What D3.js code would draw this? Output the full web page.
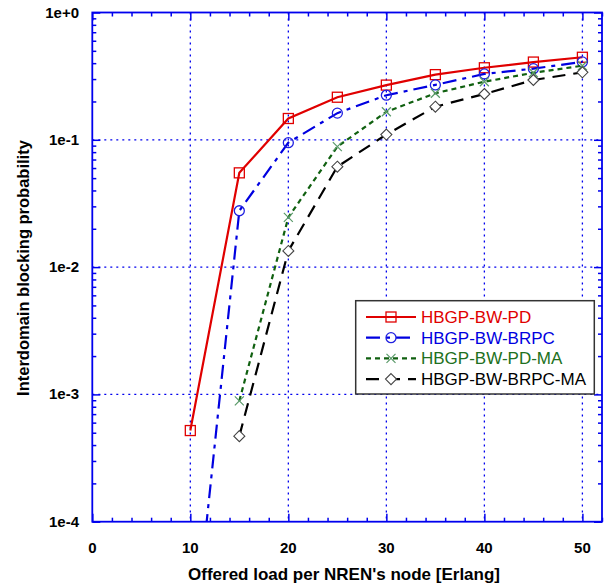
<!DOCTYPE html>
<html>
<head>
<meta charset="utf-8">
<script src="https://cdnjs.cloudflare.com/ajax/libs/d3/7.8.5/d3.min.js"></script>
<style>
  body { margin: 0; background: #fff; }
  svg { font-family: Arial, "Liberation Sans", sans-serif; }
</style>
</head>
<body>
<svg width="609" height="586"></svg>
<script>
// data
const loads = [10, 15, 20, 25, 30, 35, 40, 45, 50];
const pd      = [5.2e-4, 0.055, 0.147, 0.216, 0.269, 0.325, 0.368, 0.408, 0.445];
const brpc    = [6e-6, 0.0277, 0.095, 0.162, 0.224, 0.27, 0.329, 0.362, 0.409];
const pdMa    = [null, 8.9e-4, 0.0246, 0.0883, 0.166, 0.232, 0.286, 0.336, 0.382];
const brpcMa  = [null, 4.7e-4, 0.0134, 0.0615, 0.110, 0.182, 0.229, 0.295, 0.339];
const xTicks = [0, 10, 20, 30, 40, 50];
const yTicks = [1e-4, 1e-3, 1e-2, 1e-1, 1];
const yTickLabels = ['1e-4', '1e-3', '1e-2', '1e-1', '1e+0'];

const series = [
  {name: 'HBGP-BW-PD', vals: pd, color: '#e00000', dash: null, marker: 'square', mcolor: '#e00000', tcolor: '#e00000'},
  {name: 'HBGP-BW-BRPC', vals: brpc, color: '#0000e0', dash: '14,6,4,6', marker: 'circle', mcolor: '#2020e0', tcolor: '#0000e0'},
  {name: 'HBGP-BW-PD-MA', vals: pdMa, color: '#106010', dash: '5,4', marker: 'cross', mcolor: '#5a9a6a', tcolor: '#207020'},
  {name: 'HBGP-BW-BRPC-MA', vals: brpcMa, color: '#000000', dash: '13,8', marker: 'diamond', mcolor: '#444', tcolor: '#000'}
];

const svg = d3.select('svg');
const pLeft = 92.3, pRight = 602, pTop = 12.5, pBottom = 521.7;
const axisBlue = '#0000ee';

const x = d3.scaleLinear().domain([0, 52]).range([pLeft, pRight]);
const y = d3.scaleLog().domain([1e-4, 1]).range([pBottom, pTop]);

svg.append('clipPath').attr('id', 'plot')
  .append('rect').attr('x', pLeft).attr('y', pTop)
  .attr('width', pRight - pLeft).attr('height', pBottom - pTop);

// grid
const grid = svg.append('g').attr('stroke', axisBlue).attr('stroke-width', 1.3)
  .attr('stroke-dasharray', '2,4');
xTicks.filter(d => d > 0).forEach(d => {
  grid.append('line').attr('x1', x(d)).attr('x2', x(d)).attr('y1', pTop).attr('y2', pBottom);
});
yTicks.filter(d => d > 1e-4 && d < 1).forEach(d => {
  grid.append('line').attr('x1', pLeft).attr('x2', pRight).attr('y1', y(d)).attr('y2', y(d));
});

// axes with inward ticks on all four sides
const xMinor = d3.range(0, 53, 2).filter(d => d % 10 !== 0);
const yMinor = [];
for (let e = -4; e < 0; e++) for (let k = 2; k <= 9; k++) yMinor.push(k * Math.pow(10, e));

const axes = [
  [d3.axisBottom(x).tickValues(xTicks).tickSize(-8), `translate(0,${pBottom})`],
  [d3.axisBottom(x).tickValues(xMinor).tickSize(-4), `translate(0,${pBottom})`],
  [d3.axisTop(x).tickValues(xTicks).tickSize(-8), `translate(0,${pTop})`],
  [d3.axisTop(x).tickValues(xMinor).tickSize(-4), `translate(0,${pTop})`],
  [d3.axisLeft(y).tickValues(yTicks).tickSize(-8), `translate(${pLeft},0)`],
  [d3.axisLeft(y).tickValues(yMinor).tickSize(-4), `translate(${pLeft},0)`],
  [d3.axisRight(y).tickValues(yTicks).tickSize(-8), `translate(${pRight},0)`],
  [d3.axisRight(y).tickValues(yMinor).tickSize(-4), `translate(${pRight},0)`]
];
axes.forEach(([ax, tr]) => {
  const g = svg.append('g').attr('transform', tr).call(ax.tickFormat(''));
  g.selectAll('.domain').remove();
  g.selectAll('.tick line').attr('stroke', axisBlue).attr('stroke-width', 1.5);
});
svg.append('rect').attr('x', pLeft).attr('y', pTop)
  .attr('width', pRight - pLeft).attr('height', pBottom - pTop)
  .attr('fill', 'none').attr('stroke', axisBlue).attr('stroke-width', 1.8);

// tick labels
svg.append('g').selectAll('text').data(xTicks).enter().append('text')
  .attr('x', d => x(d)).attr('y', 553)
  .attr('text-anchor', 'middle').attr('font-size', 15).attr('font-weight', 'bold')
  .text(d => d);
svg.append('g').selectAll('text').data(yTicks).enter().append('text')
  .attr('x', 79).attr('y', d => y(d) + 5)
  .attr('text-anchor', 'end').attr('font-size', 15).attr('font-weight', 'bold')
  .text((d, i) => yTickLabels[i]);

// axis titles
svg.append('text').attr('x', 344).attr('y', 580)
  .attr('text-anchor', 'middle').attr('font-size', 17).attr('font-weight', 'bold')
  .text("Offered load per NREN's node [Erlang]");
svg.append('text').attr('transform', 'translate(29,268) rotate(-90)')
  .attr('text-anchor', 'middle').attr('font-size', 16.5).attr('font-weight', 'bold')
  .text('Interdomain blocking probability');

// markers
function drawMarker(g, type, cx, cy, color) {
  if (type === 'square') {
    g.append('rect').attr('x', cx - 5).attr('y', cy - 5).attr('width', 10).attr('height', 10)
      .attr('fill', 'none').attr('stroke', color).attr('stroke-width', 1.3);
  } else if (type === 'circle') {
    g.append('circle').attr('cx', cx).attr('cy', cy).attr('r', 5)
      .attr('fill', 'none').attr('stroke', color).attr('stroke-width', 1.3);
  } else if (type === 'cross') {
    g.append('path').attr('d', `M${cx-4.5},${cy-4.5}L${cx+4.5},${cy+4.5}M${cx-4.5},${cy+4.5}L${cx+4.5},${cy-4.5}`)
      .attr('stroke', color).attr('stroke-width', 1.2);
  } else {
    g.append('path').attr('d', `M${cx},${cy-5.5}L${cx+5.5},${cy}L${cx},${cy+5.5}L${cx-5.5},${cy}Z`)
      .attr('fill', 'white').attr('stroke', color).attr('stroke-width', 1.1);
  }
}

const line = d3.line()
  .defined(d => d.v != null)
  .x(d => x(d.x)).y(d => y(d.v));

const plot = svg.append('g').attr('clip-path', 'url(#plot)');
series.forEach(s => {
  const pts = loads.map((l, i) => ({x: l, v: s.vals[i]}));
  plot.append('path').datum(pts)
    .attr('d', line).attr('fill', 'none')
    .attr('stroke', s.color).attr('stroke-width', 2.2)
    .attr('stroke-dasharray', s.dash);
  pts.filter(p => p.v != null && p.v >= 1e-4).forEach(p => {
    drawMarker(plot, s.marker, x(p.x), y(p.v), s.mcolor);
  });
});

// legend
const lg = svg.append('g');
lg.append('rect').attr('x', 355.7).attr('y', 300.7).attr('width', 238.6).attr('height', 93.3)
  .attr('fill', 'white').attr('stroke', '#333').attr('stroke-width', 1.5);
series.forEach((s, i) => {
  const ly = 317 + i * 20.7;
  lg.append('line').attr('x1', 366).attr('x2', 416).attr('y1', ly).attr('y2', ly)
    .attr('stroke', s.color).attr('stroke-width', 2.2).attr('stroke-dasharray', s.dash);
  drawMarker(lg, s.marker, 391, ly, s.mcolor);
  lg.append('text').attr('x', 421).attr('y', ly + 6)
    .attr('font-size', 17).attr('fill', s.tcolor)
    .text(s.name);
});
</script>
</body>
</html>
